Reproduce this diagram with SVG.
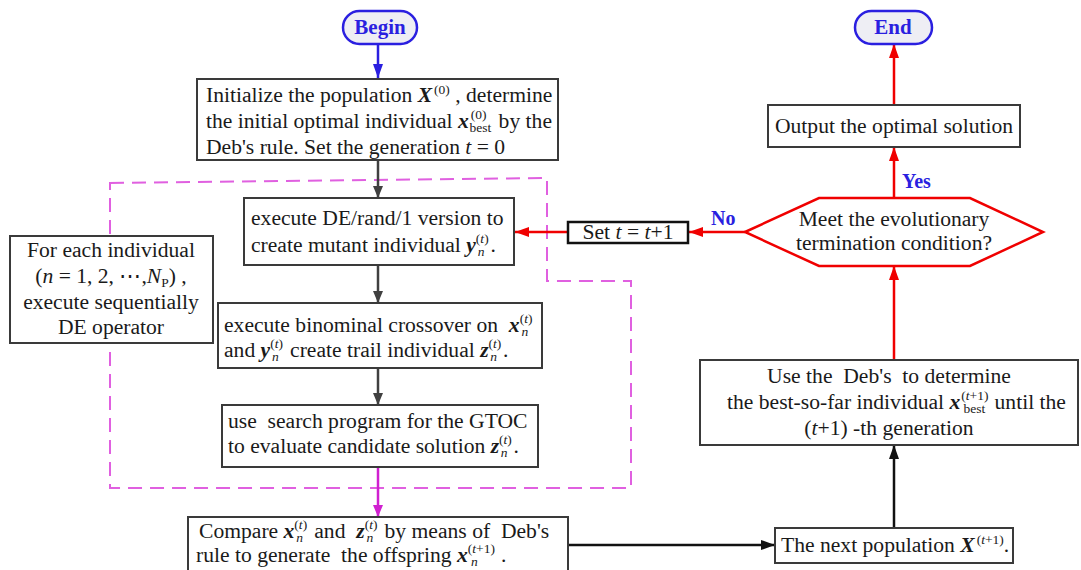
<svg xmlns="http://www.w3.org/2000/svg" width="1081" height="570" viewBox="0 0 1081 570">
<style>
text{font-family:"Liberation Serif","Times New Roman",serif;font-size:21.6px;fill:#1a1a1a;white-space:pre}
.c{text-anchor:middle}
.bi{font-weight:bold;font-style:italic}
.i{font-style:italic}
.sm{font-size:13.5px}
.box{fill:#fff;stroke:#3a3a3a;stroke-width:2}
.term{fill:#eeeef4;stroke:#2a1fe0;stroke-width:2.5}
.tt{font-weight:bold;fill:#2a1fe0;font-size:21px}
.lab{font-weight:bold;fill:#2a1fe0;font-size:20px}
.cg{stroke:#404040;stroke-width:2.5;fill:none}
.cr{stroke:#f00000;stroke-width:2.5;fill:none}
.cb{stroke:#2a1fe0;stroke-width:2.5;fill:none}
.cm{stroke:#d020d0;stroke-width:2.5;fill:none}
.ck{stroke:#111;stroke-width:2.5;fill:none}
</style>
<defs>
<marker id="ag" viewBox="0 0 12 10" refX="12" refY="5" markerWidth="12" markerHeight="10" markerUnits="userSpaceOnUse" orient="auto"><path d="M0,0 L12,5 L0,10 z" fill="#404040"/></marker>
<marker id="ar" viewBox="0 0 14 10" refX="14" refY="5" markerWidth="14" markerHeight="10" markerUnits="userSpaceOnUse" orient="auto"><path d="M0,0 L14,5 L0,10 z" fill="#f00000"/></marker>
<marker id="ab" viewBox="0 0 14 10" refX="14" refY="5" markerWidth="14" markerHeight="10" markerUnits="userSpaceOnUse" orient="auto"><path d="M0,0 L14,5 L0,10 z" fill="#2a1fe0"/></marker>
<marker id="am" viewBox="0 0 12 10" refX="12" refY="5" markerWidth="12" markerHeight="10" markerUnits="userSpaceOnUse" orient="auto"><path d="M0,0 L12,5 L0,10 z" fill="#d020d0"/></marker>
<marker id="ak" viewBox="0 0 14 10" refX="14" refY="5" markerWidth="14" markerHeight="10" markerUnits="userSpaceOnUse" orient="auto"><path d="M0,0 L14,5 L0,10 z" fill="#111"/></marker>
</defs>
<g id="loop-region">
<path d="M110,183 L547,178 L547,281 L631,281 L631,488 L110,488 Z" fill="none" stroke="#e060e0" stroke-width="2" stroke-dasharray="14,8"/>
</g>
<g id="connectors">
<line class="cb" x1="378" y1="44" x2="378" y2="78" marker-end="url(#ab)"/>
<line class="cg" x1="378" y1="160" x2="378" y2="198" marker-end="url(#ag)"/>
<line class="cg" x1="378" y1="265" x2="378" y2="303" marker-end="url(#ag)"/>
<line class="cg" x1="378" y1="368" x2="378" y2="405" marker-end="url(#ag)"/>
<line class="cm" x1="378" y1="467" x2="378" y2="517" marker-end="url(#am)"/>
<line class="ck" x1="568" y1="545" x2="775" y2="545" marker-end="url(#ak)"/>
<line class="ck" x1="894" y1="528" x2="894" y2="445" marker-end="url(#ak)"/>
<line class="cr" x1="894" y1="360" x2="894" y2="266" marker-end="url(#ar)"/>
<line class="cr" x1="745" y1="232" x2="689" y2="232" marker-end="url(#ar)"/>
<line class="cr" x1="568" y1="232" x2="515" y2="232" marker-end="url(#ar)"/>
<line class="cr" x1="894" y1="198" x2="894" y2="147" marker-end="url(#ar)"/>
<line class="cr" x1="894" y1="105" x2="894" y2="44" marker-end="url(#ar)"/>
<text class="lab" x="711" y="225">No</text>
<text class="lab" x="902" y="188">Yes</text>
</g>
<g id="begin">
<rect class="term" x="343" y="11" width="74" height="33" rx="16.5"/>
<text class="c tt" x="380" y="34">Begin</text>
</g>
<g id="end">
<rect class="term" x="855" y="11" width="77" height="33" rx="16.5"/>
<text class="c tt" x="893" y="34">End</text>
</g>
<g id="init">
<rect class="box" x="197" y="79" width="361" height="81"/>
<text x="206" y="102">Initialize the population <tspan class="bi">X</tspan><tspan class="sm" dx="2" dy="-8">(0)</tspan><tspan dy="8"> , determine</tspan></text>
<text x="206" y="128">the initial optimal individual <tspan class="bi">x</tspan><tspan class="sm" dx="2" dy="-9">(0)</tspan><tspan class="sm" dx="-17" dy="13">best</tspan><tspan dx="2" dy="-4"> by the</tspan></text>
<text x="206" y="154">Deb's rule. Set the generation <tspan class="i">t</tspan> = 0</text>
</g>
<g id="mutation">
<rect class="box" x="244" y="198" width="270" height="67"/>
<text x="251" y="225">execute DE/rand/1 version to</text>
<text x="251" y="252">create mutant individual <tspan class="bi">y</tspan><tspan class="sm" dy="-9">(<tspan class="i">t</tspan>)</tspan><tspan class="sm i" dx="-11" dy="13">n</tspan><tspan dx="6" dy="-4">.</tspan></text>
</g>
<g id="crossover">
<rect class="box" x="218" y="303" width="324" height="65"/>
<text x="224" y="332">execute binominal crossover on  <tspan class="bi">x</tspan><tspan class="sm" dy="-9">(<tspan class="i">t</tspan>)</tspan><tspan class="sm i" dx="-11" dy="13">n</tspan></text>
<text x="224" y="357">and <tspan class="bi">y</tspan><tspan class="sm" dy="-9">(<tspan class="i">t</tspan>)</tspan><tspan class="sm i" dx="-11" dy="13">n</tspan><tspan dx="6" dy="-4"> create trail individual </tspan><tspan class="bi">z</tspan><tspan class="sm" dy="-9">(<tspan class="i">t</tspan>)</tspan><tspan class="sm i" dx="-11" dy="13">n</tspan><tspan dx="6" dy="-4">.</tspan></text>
</g>
<g id="evaluate">
<rect class="box" x="222" y="405" width="316" height="62"/>
<text x="228" y="428">use  search program for the GTOC</text>
<text x="228" y="453">to evaluate candidate solution <tspan class="bi">z</tspan><tspan class="sm" dy="-9">(<tspan class="i">t</tspan>)</tspan><tspan class="sm i" dx="-11" dy="13">n</tspan><tspan dx="6" dy="-4">.</tspan></text>
</g>
<g id="for-each">
<rect class="box" x="10" y="236" width="203" height="107"/>
<text class="c" x="111" y="257">For each individual</text>
<text class="c" x="111" y="283">(<tspan class="i">n</tspan> = 1, 2, ⋯,<tspan class="i">N</tspan><tspan class="sm" dy="4">P</tspan><tspan dy="-4">) ,</tspan></text>
<text class="c" x="111" y="309">execute sequentially</text>
<text class="c" x="111" y="334">DE operator</text>
</g>
<g id="compare">
<rect class="box" x="188" y="517" width="380" height="60"/>
<text x="199" y="538">Compare <tspan class="bi">x</tspan><tspan class="sm" dy="-9">(<tspan class="i">t</tspan>)</tspan><tspan class="sm i" dx="-11" dy="13">n</tspan><tspan dx="6" dy="-4"> and  </tspan><tspan class="bi">z</tspan><tspan class="sm" dy="-9">(<tspan class="i">t</tspan>)</tspan><tspan class="sm i" dx="-11" dy="13">n</tspan><tspan dx="6" dy="-4"> by means of  Deb's</tspan></text>
<text x="196" y="562">rule to generate  the offspring <tspan class="bi">x</tspan><tspan class="sm" dy="-9">(<tspan class="i">t</tspan>+1)</tspan><tspan class="sm i" dx="-24" dy="13">n</tspan><tspan dx="18" dy="-4"> .</tspan></text>
</g>
<g id="next-pop">
<rect class="box" x="775" y="528" width="238" height="35"/>
<text x="781" y="552">The next population <tspan class="bi">X</tspan><tspan class="sm" dx="2" dy="-8">(<tspan class="i">t</tspan>+1)</tspan><tspan dy="8">.</tspan></text>
</g>
<g id="best-so-far">
<rect class="box" x="700" y="360" width="378" height="85"/>
<text class="c" x="889" y="383">Use the  Deb's  to determine</text>
<text x="727" y="409">the best-so-far individual <tspan class="bi">x</tspan><tspan class="sm" dx="1" dy="-9">(<tspan class="i">t</tspan>+1)</tspan><tspan class="sm" dx="-25" dy="13">best</tspan><tspan dx="4" dy="-4"> until the</tspan></text>
<text class="c" x="889" y="435">(<tspan class="i">t</tspan>+1) -th generation</text>
</g>
<g id="decision">
<path d="M745,232 L819,198 L970,198 L1043,232 L970,266 L819,266 Z" fill="#fff" stroke="#f00000" stroke-width="2.5"/>
<text class="c" x="894" y="226">Meet the evolutionary</text>
<text class="c" x="894" y="250">termination condition?</text>
</g>
<g id="set-t">
<rect x="568" y="222" width="120" height="21" fill="#fff" stroke="#111" stroke-width="2.5"/>
<text class="c" x="628" y="239">Set <tspan class="i">t</tspan> = <tspan class="i">t</tspan>+1</text>
</g>
<g id="output">
<rect class="box" x="768" y="105" width="252" height="42"/>
<text class="c" x="894" y="133">Output the optimal solution</text>
</g>
</svg>
